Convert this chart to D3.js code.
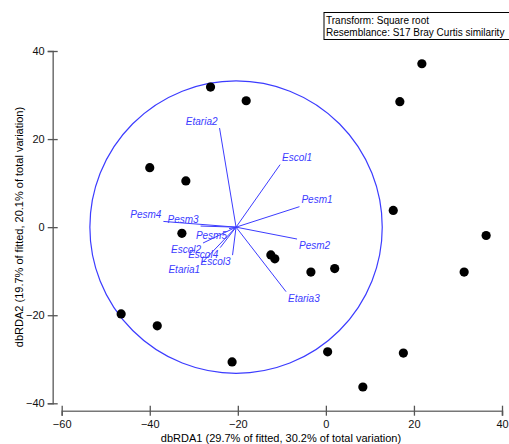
<!DOCTYPE html>
<html>
<head>
<meta charset="utf-8">
<script src="https://cdn.jsdelivr.net/npm/d3@7"></script>
<style>
  body { margin: 0; background: #fff; }
  svg { display: block; font-family: "Liberation Sans", Arial, sans-serif; }
</style>
</head>
<body>
<svg width="509" height="444"></svg>
<script>
// sample scores on dbRDA1 / dbRDA2
const sampleX = [-26.2, -18.1, 21.8, 16.8, -40.0, -31.8, 15.3, 36.4, -32.7, -12.5,
  -11.6, -3.4, 2.0, 31.4, -46.5, -38.3, 0.4, 17.6, -21.3, 8.4];
const sampleY = [31.8, 28.7, 37.1, 28.5, 13.5, 10.5, 3.8, -1.9, -1.4, -6.3,
  -7.2, -10.2, -9.4, -10.2, -19.7, -22.4, -28.3, -28.6, -30.6, -36.3];

// predictor vectors (relative to circle centre)
const vectorNames = ["Etaria2", "Escol1", "Pesm1", "Pesm2", "Etaria3", "Pesm4",
  "Pesm3", "Pesm5", "Escol2", "Escol4", "Escol3", "Etaria1"];
const vectorX = [-3.75, 10.0, 14.4, 13.85, 11.35, -16.5, -8.05, -1.6, -7.5, -3.6, -0.8, -7.7];
const vectorY = [22.5, 14.2, 4.65, -2.7, -14.65, 1.3, 0.25, -0.35, -3.6, -4.65, -6.35, -8.05];

const circleCentre = [-20.4, 0];
const circleRadius = 33.2;

const xTicks = [-60, -40, -20, 0, 20, 40];
const yTicks = [-40, -20, 0, 20, 40];
const legendLines = ["Transform: Square root", "Resemblance: S17 Bray Curtis similarity"];

const svg = d3.select("svg");
const blue = "#3c3cff";

const x = d3.scaleLinear().domain([-60, 40]).range([61.7, 502]);
const y = d3.scaleLinear().domain([-40, 40]).range([403.3, 51]);
const xAxisY = 410.7;
const yAxisX = 52.7;

// x axis
const gx = svg.append("g")
  .attr("transform", `translate(0,${xAxisY})`)
  .call(d3.axisBottom(x).tickValues(xTicks).tickSizeOuter(0).tickSize(5));
gx.select(".domain").attr("stroke", "#777").attr("stroke-width", 1.6);
gx.selectAll(".tick line").attr("y1", -5).attr("y2", 5).attr("stroke", "#555").attr("stroke-width", 1.3);
gx.selectAll(".tick text").attr("y", 17).attr("dy", 0)
  .style("font-size", "11px").attr("fill", "#111");

// y axis
const gy = svg.append("g")
  .attr("transform", `translate(${yAxisX},0)`)
  .call(d3.axisLeft(y).tickValues(yTicks).tickSizeOuter(0).tickSize(5));
gy.select(".domain").attr("stroke", "#777").attr("stroke-width", 1.6);
gy.selectAll(".tick line").attr("x1", -5).attr("x2", 5).attr("stroke", "#555").attr("stroke-width", 1.3);
gy.selectAll(".tick text").attr("x", -8)
  .style("font-size", "11px").attr("fill", "#111");

// axis titles
svg.append("text")
  .attr("x", 281).attr("y", 442)
  .attr("text-anchor", "middle")
  .style("font-size", "11px")
  .text("dbRDA1 (29.7% of fitted, 30.2% of total variation)");

svg.append("text")
  .attr("transform", "translate(23,227) rotate(-90)")
  .attr("text-anchor", "middle")
  .style("font-size", "11px")
  .text("dbRDA2 (19.7% of fitted, 20.1% of total variation)");

// correlation circle
const cx = x(circleCentre[0]);
const cy = y(circleCentre[1]);
svg.append("circle")
  .attr("cx", cx).attr("cy", cy)
  .attr("r", x(circleRadius) - x(0))
  .attr("fill", "none")
  .attr("stroke", blue)
  .attr("stroke-width", 1.2);

// vectors
const vectors = vectorNames.map((name, i) => ({
  name: name,
  ex: x(circleCentre[0] + vectorX[i]),
  ey: y(circleCentre[1] + vectorY[i]),
  dx: vectorX[i],
  dy: vectorY[i]
}));

svg.append("g")
  .selectAll("line.vec")
  .data(vectors)
  .join("line")
  .classed("vec", true)
  .attr("x1", cx).attr("y1", cy)
  .attr("x2", d => d.ex).attr("y2", d => d.ey)
  .attr("stroke", blue)
  .attr("stroke-width", 1);

svg.append("g")
  .selectAll("text.vlabel")
  .data(vectors)
  .join("text")
  .classed("vlabel", true)
  .attr("x", d => d.dx >= 0 ? d.ex + 2 : d.ex - 2)
  .attr("y", d => d.dy >= 0 ? d.ey - 3.5 : d.ey + 10)
  .attr("text-anchor", d => d.dx >= 0 ? "start" : "end")
  .attr("fill", blue)
  .style("font-size", "10px")
  .style("font-style", "italic")
  .text(d => d.name);

// samples
svg.append("g")
  .selectAll("circle.pt")
  .data(sampleX)
  .join("circle")
  .classed("pt", true)
  .attr("cx", d => x(d))
  .attr("cy", (d, i) => y(sampleY[i]))
  .attr("r", 4.6)
  .attr("fill", "#000");

// legend box
const lg = svg.append("g").attr("transform", "translate(324,12.5)");
lg.append("rect")
  .attr("x", 0).attr("y", 0)
  .attr("width", 190).attr("height", 27)
  .attr("fill", "#fff")
  .attr("stroke", "#000")
  .attr("stroke-width", 1);
lg.selectAll("text")
  .data(legendLines)
  .join("text")
  .attr("x", 2)
  .attr("y", (d, i) => 11 + i * 12.5)
  .style("font-size", "10px")
  .text(d => d);
</script>
</body>
</html>
